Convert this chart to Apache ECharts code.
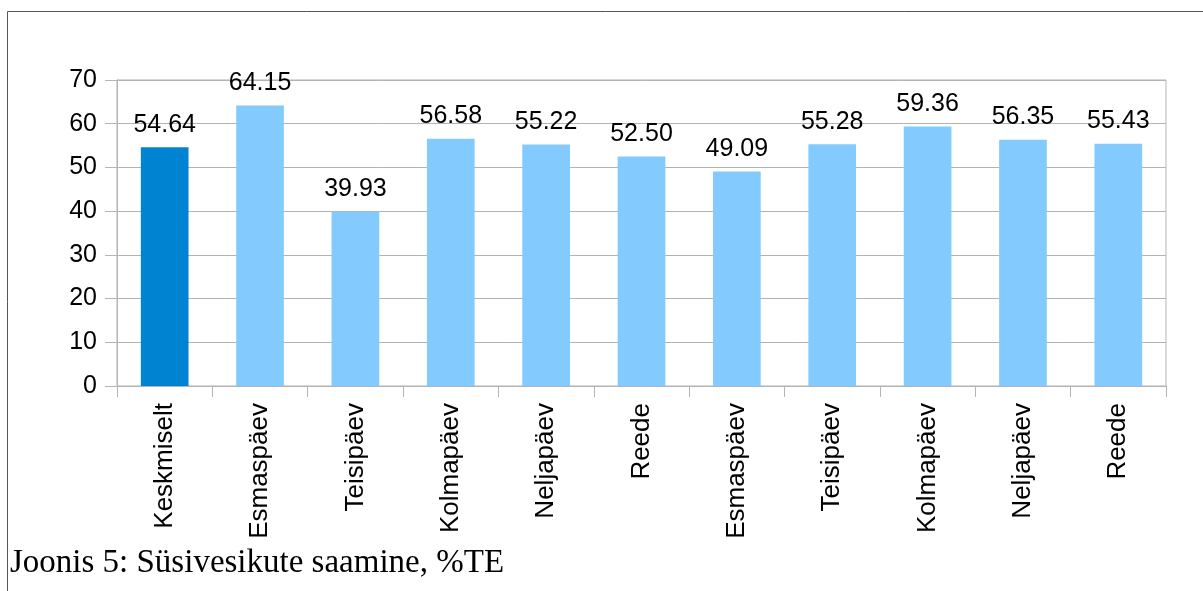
<!DOCTYPE html>
<html>
<head>
<meta charset="utf-8">
<script src="https://cdn.jsdelivr.net/npm/echarts@6/dist/echarts.min.js"></script>
<style>
  html, body { margin: 0; padding: 0; background: #fff; }
  #chart { width: 1203px; height: 591px; }
</style>
</head>
<body>
<div id="chart"></div>
<script>
// Carbohydrate intake, share of total energy (%TE), by day
const categories = ['Keskmiselt', 'Esmaspäev', 'Teisipäev', 'Kolmapäev', 'Neljapäev', 'Reede',
                    'Esmaspäev', 'Teisipäev', 'Kolmapäev', 'Neljapäev', 'Reede'];
const values = [54.64, 64.15, 39.93, 56.58, 55.22, 52.50, 49.09, 55.28, 59.36, 56.35, 55.43];
const yTicks = [0, 10, 20, 30, 40, 50, 60, 70];
const caption = 'Joonis 5: Süsivesikute saamine, %TE';

const averageColor = '#0084d1';
const dayColor = '#83caff';
const gridColor = '#b3b3b3';
const sans = '"Liberation Sans", Arial, sans-serif';

const chart = echarts.init(document.getElementById('chart'), null, { renderer: 'canvas' });

chart.setOption({
  animation: false,
  backgroundColor: '#ffffff',
  grid: {
    left: 117, right: 37, top: 80, bottom: 205,
    show: true, borderColor: gridColor, borderWidth: 1, backgroundColor: 'transparent'
  },
  xAxis: {
    type: 'category',
    data: categories,
    axisLine: { lineStyle: { color: gridColor, width: 1 } },
    axisTick: { show: true, alignWithLabel: false, length: 11, lineStyle: { color: gridColor } },
    axisLabel: {
      interval: 0, rotate: 90, margin: 17,
      color: '#000', fontFamily: sans, fontSize: 26
    }
  },
  yAxis: {
    type: 'value',
    min: yTicks[0], max: yTicks[yTicks.length - 1], interval: 10,
    axisLine: { show: true, lineStyle: { color: gridColor, width: 1 } },
    axisTick: { show: true, length: 12, lineStyle: { color: gridColor } },
    splitLine: { lineStyle: { color: gridColor, width: 1 } },
    axisLabel: { margin: 20, color: '#000', fontFamily: sans, fontSize: 25 }
  },
  series: [{
    type: 'bar',
    barWidth: '50%',
    data: values.map((v, i) => ({
      value: v,
      itemStyle: { color: i === 0 ? averageColor : dayColor }
    })),
    label: {
      show: true, position: 'top', distance: 10,
      color: '#000', fontFamily: sans, fontSize: 25,
      formatter: p => p.value.toFixed(2)
    }
  }],
  graphic: [
    { type: 'line', shape: { x1: 7.5, y1: 11.5, x2: 1203, y2: 11.5 }, style: { stroke: '#555', lineWidth: 1 } },
    { type: 'line', shape: { x1: 7.5, y1: 11.5, x2: 7.5, y2: 591 }, style: { stroke: '#555', lineWidth: 1 } },
    {
      type: 'text', left: 10, top: 547,
      style: { text: caption, fill: '#000', font: '33px "Liberation Serif", "DejaVu Serif", serif' }
    }
  ]
});
</script>
</body>
</html>
